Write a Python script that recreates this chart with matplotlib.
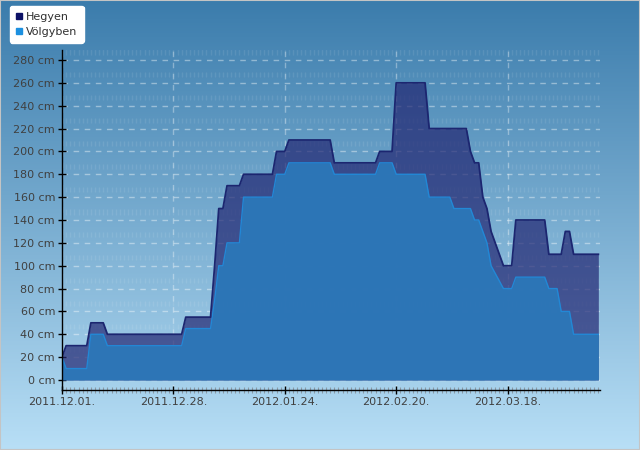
"""Snow depth chart: Hegyen vs Völgyben, winter 2011/2012."""

import matplotlib

matplotlib.use("Agg")
import matplotlib.dates as mdates
import matplotlib.pyplot as plt
import numpy as np
import pandas as pd
from matplotlib.lines import Line2D
from matplotlib.ticker import FuncFormatter, MultipleLocator

START = "2011-12-01"

# day offsets from START where the series change, with the depth in cm
hegyen_days = [0, 1, 6, 7, 10, 11, 29, 30, 36, 37, 38, 39, 40, 43, 44, 51, 52, 54, 55,
               65, 66, 76, 77, 80, 81, 88, 89, 98, 99, 100, 101, 102, 103, 104, 107,
               109, 110, 117, 118, 121, 122, 123, 124, 130]
hegyen_cm = [20, 30, 30, 50, 50, 40, 40, 55, 55, 100, 150, 150, 170, 170, 180, 180, 200, 200, 210,
             210, 190, 190, 200, 200, 260, 260, 220, 220, 200, 190, 190, 160, 150, 130, 100,
             100, 140, 140, 110, 110, 130, 130, 110, 110]

volgyben_days = [0, 1, 6, 7, 10, 11, 29, 30, 36, 37, 38, 39, 40, 43, 44, 51, 52, 54, 55,
                 65, 66, 76, 77, 80, 81, 88, 89, 94, 95, 99, 100, 101, 103, 104, 107,
                 109, 110, 117, 118, 120, 121, 123, 124, 130]
volgyben_cm = [20, 10, 10, 40, 40, 30, 30, 45, 45, 70, 100, 100, 120, 120, 160, 160, 180, 180, 190,
               190, 180, 180, 190, 190, 180, 180, 160, 160, 150, 150, 140, 140, 120, 100, 80,
               80, 90, 90, 80, 80, 60, 60, 40, 40]

tick_dates = ["2011-12-01", "2011-12-28", "2012-01-24", "2012-02-20", "2012-03-18"]
series_names = ["Hegyen", "Völgyben"]

start = pd.Timestamp(START)
x_heg = mdates.date2num(start + pd.to_timedelta(hegyen_days, unit="D"))
x_vol = mdates.date2num(start + pd.to_timedelta(volgyben_days, unit="D"))
x0 = mdates.date2num(start)
x1 = x0 + 130.4

fig = plt.figure(figsize=(6.4, 4.5), dpi=100)

# background gradient over the whole figure
bg = fig.add_axes([0, 0, 1, 1], zorder=-10)
top_c = np.array([0x3b, 0x7c, 0xac]) / 255
bot_c = np.array([0xb8, 0xdf, 0xf6]) / 255
t = np.linspace(0, 1, 256)[:, None]
grad = (top_c * (1 - t) + bot_c * t)[:, None, :]
bg.imshow(grad, aspect="auto", extent=[0, 1, 0, 1])
bg.set_axis_off()
bg.add_patch(plt.Rectangle((0, 0), 1, 1, transform=bg.transAxes, fill=False,
                           edgecolor="#c4c4c4", linewidth=1.5))

ax = fig.add_axes([62 / 640, 1 - 390 / 450, 538 / 640, 340 / 450])
ax.set_facecolor("none")
ax.set_xlim(x0, x1)
ax.set_ylim(-8.75, 288.75)

# faint daily stripes
days = np.arange(x0, x1, 1.0)
for lev in range(7, 290, 20):
    ax.vlines(days, lev - 2.2, lev + 2.2, color="white", alpha=0.09, linewidth=1, zorder=0)

# grid
for v in range(0, 290, 20):
    ax.axhline(v, color="white", alpha=0.4, linewidth=1, linestyle=(0, (4, 4)), zorder=1)
for d in tick_dates:
    ax.axvline(mdates.date2num(pd.Timestamp(d)), color="white", alpha=0.35, linewidth=1,
               linestyle=(0, (4, 4)), zorder=1)

ax.fill_between(x_heg, 0, hegyen_cm, color="#222672", alpha=0.7, linewidth=0, zorder=2)
ax.plot(x_heg, hegyen_cm, color="#1c2670", linewidth=1.3, zorder=4)
ax.fill_between(x_vol, 0, volgyben_cm, color="#2c77b8", alpha=0.96, linewidth=0, zorder=3)
ax.plot(x_vol, volgyben_cm, color="#2288d6", linewidth=1.0, zorder=3.5)

for side in ["top", "right"]:
    ax.spines[side].set_visible(False)
for side in ["left", "bottom"]:
    ax.spines[side].set_color("black")
    ax.spines[side].set_linewidth(1)
    ax.spines[side].set_zorder(5)

ax.yaxis.set_major_locator(MultipleLocator(20))
ax.yaxis.set_major_formatter(FuncFormatter(lambda v, _: f"{v:.0f} cm"))
ax.set_xticks([mdates.date2num(pd.Timestamp(d)) for d in tick_dates])
ax.xaxis.set_major_formatter(mdates.DateFormatter("%Y.%m.%d."))
ax.xaxis.set_minor_locator(mdates.DayLocator())

ax.tick_params(axis="both", which="major", direction="inout", length=6, width=1,
               color="black", labelcolor="#404040", labelsize=8, pad=2)
ax.tick_params(axis="x", which="minor", direction="inout", length=4, width=0.8,
               color="#8a9aa6")

handles = [
    Line2D([], [], marker="s", linestyle="none", markersize=5, color="#0c1166"),
    Line2D([], [], marker="s", linestyle="none", markersize=5, color="#1c90e0"),
]
leg = fig.legend(handles, series_names, loc="upper left", bbox_to_anchor=(10 / 640, 1 - 6 / 450),
                 fontsize=8, frameon=True, fancybox=True, framealpha=1, edgecolor="white",
                 handlelength=0.6, handletextpad=0.3, borderpad=0.55, labelspacing=0.4,
                 borderaxespad=0)
for txt in leg.get_texts():
    txt.set_color("#303030")

fig.savefig("out.png", dpi=100)
